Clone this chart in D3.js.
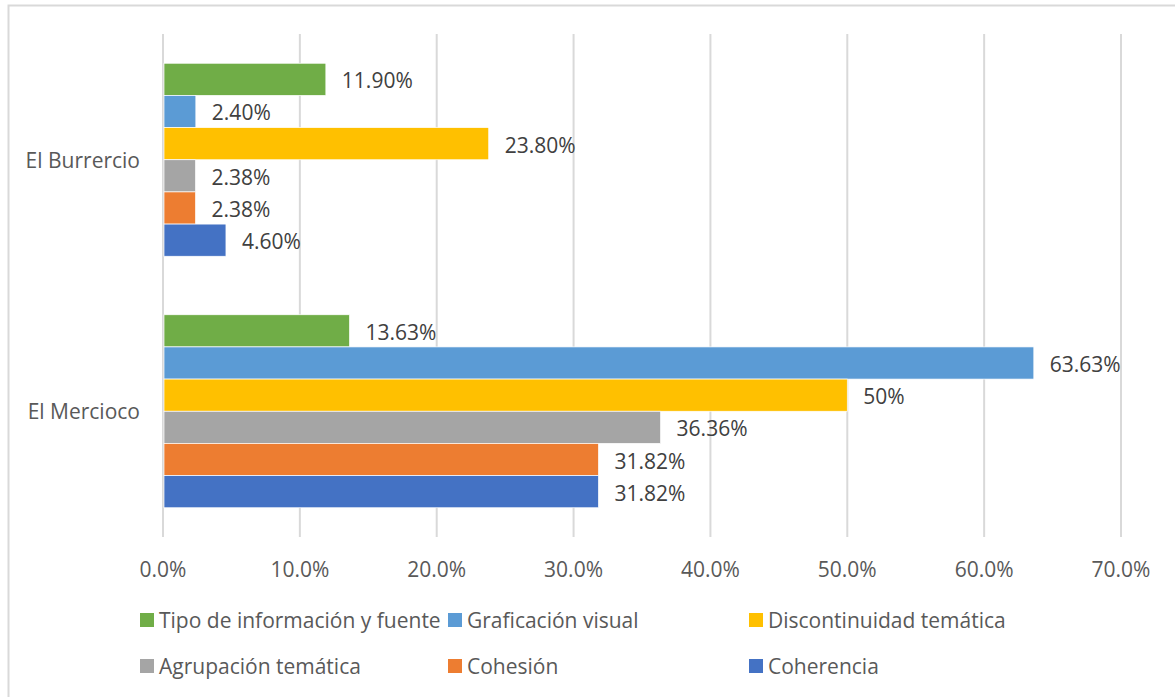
<!DOCTYPE html>
<html>
<head>
<meta charset="utf-8">
<script src="https://cdn.jsdelivr.net/npm/d3@7"></script>
<style>
  body { margin: 0; background: #fff; }
  svg text { font-family: "Open Sans", sans-serif; }
</style>
</head>
<body>
<div id="chart"></div>
<script>
// categories, top to bottom
const schools = ["El Burrercio", "El Mercioco"];
// series, in the order bars are drawn inside each group (top to bottom)
const seriesNames = ["Tipo de información y fuente", "Graficación visual", "Discontinuidad temática",
                     "Agrupación temática", "Cohesión", "Coherencia"];
const seriesColors = ["#70ad47", "#5b9bd5", "#ffc000", "#a5a5a5", "#ed7d31", "#4472c4"];
const burrercioValues = [11.90, 2.40, 23.80, 2.38, 2.38, 4.60];
const merciocoValues = [13.63, 63.63, 50, 36.36, 31.82, 31.82];
const burrercioLabels = ["11.90%", "2.40%", "23.80%", "2.38%", "2.38%", "4.60%"];
const merciocoLabels = ["13.63%", "63.63%", "50%", "36.36%", "31.82%", "31.82%"];
const xTicks = [0, 10, 20, 30, 40, 50, 60, 70];

const width = 1175, height = 697;
let margin = {top: 34, right: 54, bottom: 160, left: 163};
const fontSize = "21px";

const svg = d3.select("#chart").append("svg")
  .attr("width", width)
  .attr("height", height);

// chart border (only top and left show in the frame)
svg.append("rect")
  .attr("x", 8.5).attr("y", 5.5)
  .attr("width", width + 10).attr("height", height + 10)
  .style("fill", "none")
  .style("stroke", "#d9d9d9")
  .style("stroke-width", 2);

const plotBottom = height - margin.bottom;

let x = d3.scaleLinear()
  .domain([0, 70])
  .range([margin.left, width - margin.right]);

let y = d3.scaleBand()
  .domain(schools)
  .range([margin.top, plotBottom])
  .paddingInner(0.2326)
  .paddingOuter(0.1163);

let ySub = d3.scaleBand()
  .domain(seriesNames)
  .range([0, y.bandwidth()]);

// gridlines
svg.append("g").selectAll("line")
  .data(xTicks)
  .enter()
  .append("line")
  .attr("x1", d => x(d)).attr("x2", d => x(d))
  .attr("y1", margin.top).attr("y2", plotBottom)
  .style("stroke", "#d9d9d9")
  .style("stroke-width", 2);

// x axis labels
svg.append("g").selectAll("text")
  .data(xTicks)
  .enter()
  .append("text")
  .attr("x", d => x(d))
  .attr("y", 569)
  .attr("text-anchor", "middle")
  .attr("dominant-baseline", "central")
  .style("font-size", fontSize)
  .style("fill", "#595959")
  .text(d => d.toFixed(1) + "%");

// y category labels
svg.append("g").selectAll("text")
  .data(schools)
  .enter()
  .append("text")
  .attr("x", 140)
  .attr("y", d => y(d) + y.bandwidth() / 2)
  .attr("text-anchor", "end")
  .attr("dominant-baseline", "central")
  .style("font-size", fontSize)
  .style("fill", "#595959")
  .text(d => d);

const rows = [];
schools.forEach((s, i) => {
  const vals = i === 0 ? burrercioValues : merciocoValues;
  const labs = i === 0 ? burrercioLabels : merciocoLabels;
  seriesNames.forEach((name, j) => {
    rows.push({school: s, series: name, value: vals[j], label: labs[j], color: seriesColors[j]});
  });
});

// bars
svg.append("g").selectAll("rect")
  .data(rows)
  .enter()
  .append("rect")
  .attr("x", x(0) + 1)
  .attr("y", d => y(d.school) + ySub(d.series))
  .attr("width", d => x(d.value) - x(0) - 1)
  .attr("height", ySub.bandwidth())
  .style("fill", d => d.color)
  .style("stroke", "#fff")
  .style("stroke-width", 0.7);

// data labels
svg.append("g").selectAll("text")
  .data(rows)
  .enter()
  .append("text")
  .attr("x", d => x(d.value) + 16)
  .attr("y", d => y(d.school) + ySub(d.series) + ySub.bandwidth() / 2 + 1)
  .attr("dominant-baseline", "central")
  .style("font-size", fontSize)
  .style("fill", "#404040")
  .text(d => d.label);

// legend
const legendX = [140, 448, 749];
const legendY = [620, 666];
const legend = svg.append("g").selectAll("g")
  .data(seriesNames)
  .enter()
  .append("g")
  .attr("transform", (d, i) => "translate(" + legendX[i % 3] + "," + legendY[Math.floor(i / 3)] + ")");

legend.append("rect")
  .attr("x", 0).attr("y", -7)
  .attr("width", 14).attr("height", 14)
  .style("fill", (d, i) => seriesColors[i]);

legend.append("text")
  .attr("x", 19)
  .attr("y", 0)
  .attr("dominant-baseline", "central")
  .style("font-size", fontSize)
  .style("fill", "#595959")
  .text(d => d);
</script>
</body>
</html>
